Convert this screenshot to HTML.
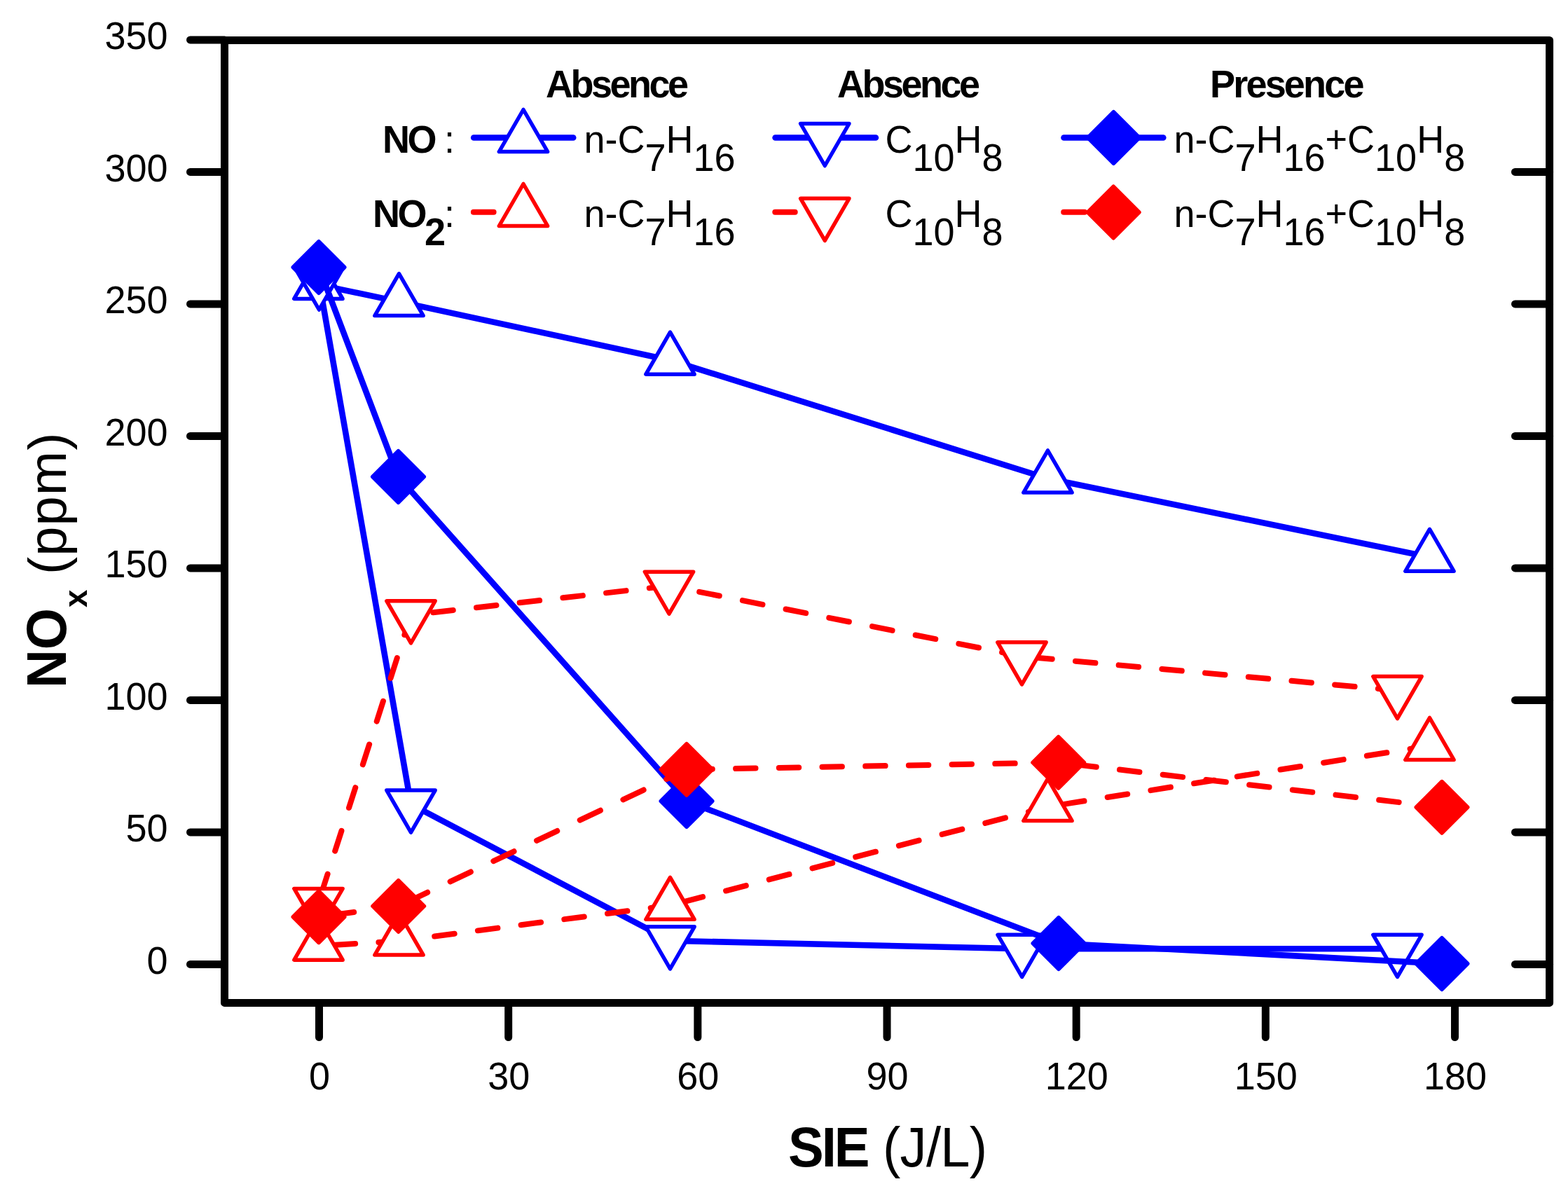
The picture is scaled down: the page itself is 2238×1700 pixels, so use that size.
<!DOCTYPE html>
<html><head><meta charset="utf-8"><title>NOx vs SIE</title>
<style>html,body{margin:0;padding:0;background:#fff;overflow:hidden;}svg{display:block;}text{font-family:'Liberation Sans', Arial, sans-serif;fill:#000;}</style></head><body>
<svg width="2238" height="1700" viewBox="0 0 2238 1700">
<rect width="2238" height="1700" fill="#fff"/>
<polyline points="454.4,406.4 569.5,430.6 956.5,514.2 1495.5,683 2040.5,795.3" fill="none" stroke="#0000ff" stroke-width="8.6" stroke-linejoin="round" stroke-linecap="round"/>
<polygon points="454.4,366.4 419.76,426.4 489.04,426.4" fill="#fff" stroke="#0000ff" stroke-width="5.5" stroke-linejoin="round"/>
<polygon points="569.5,390.6 534.86,450.6 604.14,450.6" fill="#fff" stroke="#0000ff" stroke-width="5.5" stroke-linejoin="round"/>
<polygon points="956.5,474.2 921.86,534.2 991.14,534.2" fill="#fff" stroke="#0000ff" stroke-width="5.5" stroke-linejoin="round"/>
<polygon points="1495.5,643 1460.86,703 1530.14,703" fill="#fff" stroke="#0000ff" stroke-width="5.5" stroke-linejoin="round"/>
<polygon points="2040.5,755.3 2005.86,815.3 2075.14,815.3" fill="#fff" stroke="#0000ff" stroke-width="5.5" stroke-linejoin="round"/>
<polyline points="455.4,402 586.5,1148 956.5,1342.8 1458.7,1354.3 1994.5,1354.3" fill="none" stroke="#0000ff" stroke-width="8.6" stroke-linejoin="round" stroke-linecap="round"/>
<polygon points="455.4,442 420.76,382 490.04,382" fill="#fff" stroke="#0000ff" stroke-width="5.5" stroke-linejoin="round"/>
<polygon points="586.5,1188 551.86,1128 621.14,1128" fill="#fff" stroke="#0000ff" stroke-width="5.5" stroke-linejoin="round"/>
<polygon points="956.5,1382.8 921.86,1322.8 991.14,1322.8" fill="#fff" stroke="#0000ff" stroke-width="5.5" stroke-linejoin="round"/>
<polygon points="1458.7,1394.3 1424.06,1334.3 1493.34,1334.3" fill="#fff" stroke="#0000ff" stroke-width="5.5" stroke-linejoin="round"/>
<polygon points="1994.5,1394.3 1959.86,1334.3 2029.14,1334.3" fill="#fff" stroke="#0000ff" stroke-width="5.5" stroke-linejoin="round"/>
<polyline points="455,381.5 568.5,680.5 980,1143.5 1511,1346.5 2058,1375.5" fill="none" stroke="#0000ff" stroke-width="8.6" stroke-linejoin="round" stroke-linecap="round"/>
<polygon points="455,344.75 491.75,381.5 455,418.25 418.25,381.5" fill="#0000ff" stroke="#0000ff" stroke-width="5.5" stroke-linejoin="round"/>
<polygon points="568.5,643.75 605.25,680.5 568.5,717.25 531.75,680.5" fill="#0000ff" stroke="#0000ff" stroke-width="5.5" stroke-linejoin="round"/>
<polygon points="980,1106.75 1016.75,1143.5 980,1180.25 943.25,1143.5" fill="#0000ff" stroke="#0000ff" stroke-width="5.5" stroke-linejoin="round"/>
<polygon points="1511,1309.75 1547.75,1346.5 1511,1383.25 1474.25,1346.5" fill="#0000ff" stroke="#0000ff" stroke-width="5.5" stroke-linejoin="round"/>
<polygon points="2058,1338.75 2094.75,1375.5 2058,1412.25 2021.25,1375.5" fill="#0000ff" stroke="#0000ff" stroke-width="5.5" stroke-linejoin="round"/>
<line x1="454.5" y1="1350.2" x2="569.5" y2="1343.1" stroke="#ff0000" stroke-width="8.0" stroke-dasharray="28.47 33.35" stroke-dashoffset="37.57" stroke-linecap="round"/>
<line x1="569.5" y1="1343.1" x2="956.5" y2="1292.3" stroke="#ff0000" stroke-width="8.0" stroke-dasharray="28.71 33.52" stroke-dashoffset="11.09" stroke-linecap="round"/>
<line x1="956.5" y1="1292.3" x2="1495.5" y2="1151.6" stroke="#ff0000" stroke-width="8.0" stroke-dasharray="29.62 34.15" stroke-dashoffset="45.27" stroke-linecap="round"/>
<line x1="1495.5" y1="1151.6" x2="2040.5" y2="1064.5" stroke="#ff0000" stroke-width="8.0" stroke-dasharray="28.86 33.62" stroke-dashoffset="38.68" stroke-linecap="round"/>
<polygon points="454.5,1310.2 419.86,1370.2 489.14,1370.2" fill="#fff" stroke="#ff0000" stroke-width="5.5" stroke-linejoin="round"/>
<polygon points="569.5,1303.1 534.86,1363.1 604.14,1363.1" fill="#fff" stroke="#ff0000" stroke-width="5.5" stroke-linejoin="round"/>
<polygon points="956.5,1252.3 921.86,1312.3 991.14,1312.3" fill="#fff" stroke="#ff0000" stroke-width="5.5" stroke-linejoin="round"/>
<polygon points="1495.5,1111.6 1460.86,1171.6 1530.14,1171.6" fill="#fff" stroke="#ff0000" stroke-width="5.5" stroke-linejoin="round"/>
<polygon points="2040.5,1024.5 2005.86,1084.5 2075.14,1084.5" fill="#fff" stroke="#ff0000" stroke-width="5.5" stroke-linejoin="round"/>
<line x1="454.5" y1="1288.4" x2="586.5" y2="877.8" stroke="#ff0000" stroke-width="8.0" stroke-dasharray="30.23 34.58" stroke-dashoffset="52.21" stroke-linecap="round"/>
<line x1="586.5" y1="877.8" x2="955" y2="836.2" stroke="#ff0000" stroke-width="8.0" stroke-dasharray="28.63 33.46" stroke-dashoffset="30.09" stroke-linecap="round"/>
<line x1="955" y1="836.2" x2="1458.5" y2="936.8" stroke="#ff0000" stroke-width="8.0" stroke-dasharray="29.12 33.8" stroke-dashoffset="18.87" stroke-linecap="round"/>
<line x1="1458.5" y1="936.8" x2="1994.5" y2="985.6" stroke="#ff0000" stroke-width="8.0" stroke-dasharray="28.55 33.4" stroke-dashoffset="47.09" stroke-linecap="round"/>
<polygon points="454.5,1328.4 419.86,1268.4 489.14,1268.4" fill="#fff" stroke="#ff0000" stroke-width="5.5" stroke-linejoin="round"/>
<polygon points="586.5,917.8 551.86,857.8 621.14,857.8" fill="#fff" stroke="#ff0000" stroke-width="5.5" stroke-linejoin="round"/>
<polygon points="955,876.2 920.36,816.2 989.64,816.2" fill="#fff" stroke="#ff0000" stroke-width="5.5" stroke-linejoin="round"/>
<polygon points="1458.5,976.8 1423.86,916.8 1493.14,916.8" fill="#fff" stroke="#ff0000" stroke-width="5.5" stroke-linejoin="round"/>
<polygon points="1994.5,1025.6 1959.86,965.6 2029.14,965.6" fill="#fff" stroke="#ff0000" stroke-width="5.5" stroke-linejoin="round"/>
<line x1="455" y1="1308.7" x2="568.7" y2="1293.4" stroke="#ff0000" stroke-width="8.0" stroke-dasharray="28.73 33.53" stroke-dashoffset="40.36" stroke-linecap="round"/>
<line x1="568.7" y1="1293.4" x2="980" y2="1098.4" stroke="#ff0000" stroke-width="8.0" stroke-dasharray="32.28 36" stroke-dashoffset="54.73" stroke-linecap="round"/>
<line x1="980" y1="1098.4" x2="1510.7" y2="1088.4" stroke="#ff0000" stroke-width="8.0" stroke-dasharray="28.41 33.3" stroke-dashoffset="53.31" stroke-linecap="round"/>
<line x1="1510.7" y1="1088.4" x2="2058" y2="1152.3" stroke="#ff0000" stroke-width="8.0" stroke-dasharray="28.65 33.47" stroke-dashoffset="36.35" stroke-linecap="round"/>
<polygon points="455,1271.95 491.75,1308.7 455,1345.45 418.25,1308.7" fill="#ff0000" stroke="#ff0000" stroke-width="5.5" stroke-linejoin="round"/>
<polygon points="568.7,1256.65 605.45,1293.4 568.7,1330.15 531.95,1293.4" fill="#ff0000" stroke="#ff0000" stroke-width="5.5" stroke-linejoin="round"/>
<polygon points="980,1061.65 1016.75,1098.4 980,1135.15 943.25,1098.4" fill="#ff0000" stroke="#ff0000" stroke-width="5.5" stroke-linejoin="round"/>
<polygon points="1510.7,1051.65 1547.45,1088.4 1510.7,1125.15 1473.95,1088.4" fill="#ff0000" stroke="#ff0000" stroke-width="5.5" stroke-linejoin="round"/>
<polygon points="2058,1115.55 2094.75,1152.3 2058,1189.05 2021.25,1152.3" fill="#ff0000" stroke="#ff0000" stroke-width="5.5" stroke-linejoin="round"/>
<g stroke="#000" stroke-width="11" fill="none" stroke-linecap="round" stroke-linejoin="round">
<rect x="320.5" y="57.5" width="1891.1" height="1373.9"/>
<line x1="271.5" y1="1376.4" x2="320.5" y2="1376.4"/>
<line x1="2162.5" y1="1376.4" x2="2211.6" y2="1376.4"/>
<line x1="271.5" y1="1187.9" x2="320.5" y2="1187.9"/>
<line x1="2162.5" y1="1187.9" x2="2211.6" y2="1187.9"/>
<line x1="271.5" y1="999.4" x2="320.5" y2="999.4"/>
<line x1="2162.5" y1="999.4" x2="2211.6" y2="999.4"/>
<line x1="271.5" y1="810.9" x2="320.5" y2="810.9"/>
<line x1="2162.5" y1="810.9" x2="2211.6" y2="810.9"/>
<line x1="271.5" y1="622.4" x2="320.5" y2="622.4"/>
<line x1="2162.5" y1="622.4" x2="2211.6" y2="622.4"/>
<line x1="271.5" y1="433.9" x2="320.5" y2="433.9"/>
<line x1="2162.5" y1="433.9" x2="2211.6" y2="433.9"/>
<line x1="271.5" y1="245.4" x2="320.5" y2="245.4"/>
<line x1="2162.5" y1="245.4" x2="2211.6" y2="245.4"/>
<line x1="271.5" y1="56.9" x2="320.5" y2="56.9"/>
<line x1="455.5" y1="1431.4" x2="455.5" y2="1480.5"/>
<line x1="725.67" y1="1431.4" x2="725.67" y2="1480.5"/>
<line x1="995.84" y1="1431.4" x2="995.84" y2="1480.5"/>
<line x1="1266.01" y1="1431.4" x2="1266.01" y2="1480.5"/>
<line x1="1536.18" y1="1431.4" x2="1536.18" y2="1480.5"/>
<line x1="1806.35" y1="1431.4" x2="1806.35" y2="1480.5"/>
<line x1="2076.52" y1="1431.4" x2="2076.52" y2="1480.5"/>
</g>
<text x="239.5" y="1389.6" font-size="54" text-anchor="end" transform="matrix(1 0 0 1.04 0 -55.58)">0</text>
<text x="239.5" y="1201.1" font-size="54" text-anchor="end" transform="matrix(1 0 0 1.04 0 -48.04)">50</text>
<text x="239.5" y="1012.6" font-size="54" text-anchor="end" transform="matrix(1 0 0 1.04 0 -40.5)">100</text>
<text x="239.5" y="824.1" font-size="54" text-anchor="end" transform="matrix(1 0 0 1.04 0 -32.96)">150</text>
<text x="239.5" y="635.6" font-size="54" text-anchor="end" transform="matrix(1 0 0 1.04 0 -25.42)">200</text>
<text x="239.5" y="447.1" font-size="54" text-anchor="end" transform="matrix(1 0 0 1.04 0 -17.88)">250</text>
<text x="239.5" y="258.6" font-size="54" text-anchor="end" transform="matrix(1 0 0 1.04 0 -10.34)">300</text>
<text x="239.5" y="70.1" font-size="54" text-anchor="end" transform="matrix(1 0 0 1.04 0 -2.8)">350</text>
<text x="456" y="1555" font-size="54" text-anchor="middle" transform="matrix(1 0 0 1.04 0 -62.2)">0</text>
<text x="726.17" y="1555" font-size="54" text-anchor="middle" transform="matrix(1 0 0 1.04 0 -62.2)">30</text>
<text x="996.34" y="1555" font-size="54" text-anchor="middle" transform="matrix(1 0 0 1.04 0 -62.2)">60</text>
<text x="1266.51" y="1555" font-size="54" text-anchor="middle" transform="matrix(1 0 0 1.04 0 -62.2)">90</text>
<text x="1536.68" y="1555" font-size="54" text-anchor="middle" transform="matrix(1 0 0 1.04 0 -62.2)">120</text>
<text x="1806.85" y="1555" font-size="54" text-anchor="middle" transform="matrix(1 0 0 1.04 0 -62.2)">150</text>
<text x="2077.02" y="1555" font-size="54" text-anchor="middle" transform="matrix(1 0 0 1.04 0 -62.2)">180</text>
<text x="1125" y="1665" font-size="76" font-weight="bold" letter-spacing="-3" transform="matrix(1 0 0 1.04 0 -66.6)">SIE</text>
<text x="1260" y="1665" font-size="76" letter-spacing="-0.7" transform="matrix(1 0 0 1.04 0 -66.6)">(J/L)</text>
<text x="0" y="0" font-size="76" font-weight="bold" transform="translate(93.8 982) rotate(-90) scale(1 1.04)">NO</text>
<text x="0" y="0" font-size="45.5" font-weight="bold" transform="translate(124.4 867) rotate(-90) scale(1 1.0)">x</text>
<text x="0" y="0" font-size="76" letter-spacing="1.0" transform="translate(93.8 820) rotate(-90) scale(1 1.0)">(ppm)</text>
<g font-size="54" font-weight="bold" letter-spacing="-3.5">
<text x="779" y="139.5" transform="matrix(1 0 0 1.04 0 -5.58)">Absence</text>
<text x="1195" y="139.5" transform="matrix(1 0 0 1.04 0 -5.58)">Absence</text>
<text x="1727" y="139.5" letter-spacing="-2.8" transform="matrix(1 0 0 1.04 0 -5.58)">Presence</text>
<text x="546" y="218.0" transform="matrix(1 0 0 1.04 0 -8.72)">NO</text>
<text x="532" y="324.3" transform="matrix(1 0 0 1.04 0 -12.97)">NO<tspan dy="25">2</tspan></text>
</g>
<g font-size="54">
<text x="634" y="218.0" transform="matrix(1 0 0 1.04 0 -8.72)">:</text>
<text x="634" y="324.3" transform="matrix(1 0 0 1.04 0 -12.97)">:</text>
<text x="833.5" y="218" transform="matrix(1 0 0 1.04 0 -8.72)"><tspan>n-C</tspan><tspan dy="25">7</tspan><tspan dy="-25">H</tspan><tspan dy="25">16</tspan></text>
<text x="1263.5" y="218" transform="matrix(1 0 0 1.04 0 -8.72)"><tspan>C</tspan><tspan dy="25">10</tspan><tspan dy="-25">H</tspan><tspan dy="25">8</tspan></text>
<text x="1675.5" y="218" transform="matrix(1 0 0 1.04 0 -8.72)"><tspan>n-C</tspan><tspan dy="25">7</tspan><tspan dy="-25">H</tspan><tspan dy="25">16</tspan><tspan dy="-25">+C</tspan><tspan dy="25">10</tspan><tspan dy="-25">H</tspan><tspan dy="25">8</tspan></text>
<text x="833.5" y="324.3" transform="matrix(1 0 0 1.04 0 -12.97)"><tspan>n-C</tspan><tspan dy="25">7</tspan><tspan dy="-25">H</tspan><tspan dy="25">16</tspan></text>
<text x="1263.5" y="324.3" transform="matrix(1 0 0 1.04 0 -12.97)"><tspan>C</tspan><tspan dy="25">10</tspan><tspan dy="-25">H</tspan><tspan dy="25">8</tspan></text>
<text x="1675.5" y="324.3" transform="matrix(1 0 0 1.04 0 -12.97)"><tspan>n-C</tspan><tspan dy="25">7</tspan><tspan dy="-25">H</tspan><tspan dy="25">16</tspan><tspan dy="-25">+C</tspan><tspan dy="25">10</tspan><tspan dy="-25">H</tspan><tspan dy="25">8</tspan></text>
</g>
<g stroke="#0000ff" stroke-width="8.6" stroke-linecap="round">
<line x1="676.2" y1="196.5" x2="818.2" y2="196.5"/>
<line x1="1106.6" y1="196.5" x2="1249.9" y2="196.5"/>
<line x1="1518.5" y1="196.5" x2="1660.3" y2="196.5"/>
</g>
<polygon points="747,156.5 712.36,216.5 781.64,216.5" fill="#fff" stroke="#0000ff" stroke-width="5.5" stroke-linejoin="round"/>
<polygon points="1177.3,236.5 1142.66,176.5 1211.94,176.5" fill="#fff" stroke="#0000ff" stroke-width="5.5" stroke-linejoin="round"/>
<polygon points="1589.4,159.75 1626.15,196.5 1589.4,233.25 1552.65,196.5" fill="#0000ff" stroke="#0000ff" stroke-width="5.5" stroke-linejoin="round"/>
<g stroke="#ff0000" stroke-width="8.0" stroke-linecap="round">
<line x1="675.9" y1="302.8" x2="704.6" y2="302.8"/>
<line x1="1106.3" y1="302.8" x2="1134.7" y2="302.8"/>
<line x1="1518.2" y1="302.8" x2="1548" y2="302.8"/>
</g>
<polygon points="747,262.5 712.36,322.5 781.64,322.5" fill="#fff" stroke="#ff0000" stroke-width="5.5" stroke-linejoin="round"/>
<polygon points="1177.3,343.3 1142.66,283.3 1211.94,283.3" fill="#fff" stroke="#ff0000" stroke-width="5.5" stroke-linejoin="round"/>
<polygon points="1589.2,266.25 1625.95,303 1589.2,339.75 1552.45,303" fill="#ff0000" stroke="#ff0000" stroke-width="5.5" stroke-linejoin="round"/>
</svg></body></html>
